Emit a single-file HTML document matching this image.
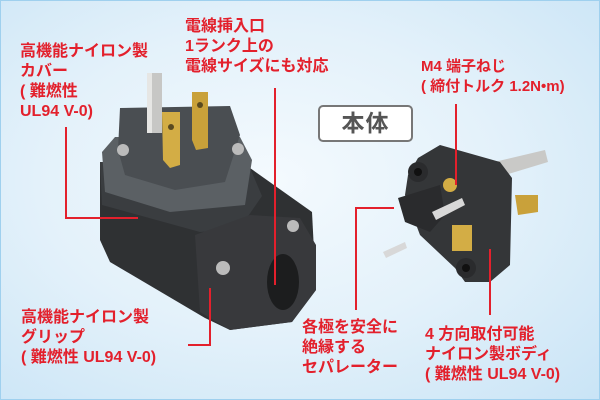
<!DOCTYPE html>
<html><head><meta charset="utf-8"><style>
html,body{margin:0;padding:0}
body{width:600px;height:400px;overflow:hidden;position:relative;font-family:"Liberation Sans","Noto Sans CJK JP",sans-serif;
background:radial-gradient(ellipse at 45% 45%,#f4fafe 0%,#e3f1fa 50%,#c9e4f6 100%);}
.frame{position:absolute;left:0;top:0;width:598px;height:398px;border:1px solid #9fd0ee}
.t{position:absolute;color:#e3202c;font-weight:bold;font-size:16px;line-height:20px;white-space:nowrap}
.s{font-size:15px;line-height:20px}
.box{position:absolute;left:318px;top:105px;width:91px;height:33px;border:2px solid #777;border-radius:5px;background:#fff;
color:#555;font-weight:bold;font-size:23px;line-height:33px;text-align:center;letter-spacing:1px}
svg{position:absolute;left:0;top:0}
</style></head><body>
<div class="frame"></div>
<svg width="600" height="400" viewBox="0 0 600 400">
<!-- left plug -->
<polygon points="100,162 250,168 312,212 316,290 292,322 230,330 205,318 110,262 100,240" fill="#2f3133"/>
<polygon points="100,162 250,168 262,196 240,228 200,232 102,205" fill="#3a3d40"/>
<path d="M195,235 L250,215 L300,218 L316,245 L316,290 L292,322 L230,330 L200,312 Z" fill="#38393c"/>
<ellipse cx="283" cy="282" rx="16" ry="28" fill="#1c1d1e"/>
<polygon points="102,152 115,137 240,137 252,160 245,205 170,212 105,192" fill="#5b6064"/>
<polygon points="120,108 230,106 240,135 225,182 175,190 125,175 118,150" fill="#4a4e52"/>
<rect x="147" y="73" width="15" height="60" fill="#c7c7c5"/>
<rect x="147" y="73" width="5" height="60" fill="#e6e6e4"/>
<polygon points="192,92 208,92 208,148 196,150 192,140" fill="#c9a13a"/>
<circle cx="200" cy="105" r="3" fill="#5a4a20"/>
<polygon points="162,112 180,112 180,165 170,168 163,160" fill="#d3ad45"/>
<circle cx="171" cy="127" r="3" fill="#5a4a20"/>
<circle cx="123" cy="150" r="6" fill="#bbb"/><circle cx="238" cy="149" r="6" fill="#bbb"/>
<circle cx="223" cy="268" r="7" fill="#bbb"/><circle cx="293" cy="226" r="6" fill="#bbb"/>
<!-- right plug -->
<polygon points="490,163 545,150 548,162 495,178" fill="#c9c9c7"/>
<polygon points="515,195 538,195 538,212 518,215" fill="#c9a13a"/>
<polygon points="418,158 440,145 500,162 512,178 510,265 490,282 465,282 455,268 420,235 405,195 408,175" fill="#343638"/>
<polygon points="398,198 440,185 445,215 430,232 405,222" fill="#2a2b2d"/>
<circle cx="418" cy="172" r="10" fill="#2a2b2d"/><circle cx="418" cy="172" r="4" fill="#111"/>
<circle cx="466" cy="268" r="10" fill="#2a2b2d"/><circle cx="466" cy="268" r="4" fill="#111"/>
<circle cx="450" cy="185" r="7" fill="#d3ad45"/>
<rect x="452" y="225" width="20" height="26" fill="#d3ad45"/>
<polygon points="432,212 462,198 465,205 436,220" fill="#d8d8d8"/>
<polygon points="383,252 405,242 407,248 386,258" fill="#d8d8d8"/>
<!-- lines -->
<g stroke="#e3202c" stroke-width="2" fill="none">
<polyline points="66,127 66,218 138,218"/>
<line x1="275" y1="88" x2="275" y2="285"/>
<polyline points="210,288 210,345 188,345"/>
<line x1="456" y1="104" x2="456" y2="185"/>
<polyline points="394,208 356,208 356,310"/>
<line x1="490" y1="249" x2="490" y2="315"/>
</g>
</svg>
<div class="t" style="left:20px;top:42px">高機能ナイロン製<br>カバー<br>( 難燃性<br>UL94 V-0)</div>
<div class="t" style="left:185px;top:17px">電線挿入口<br>1ランク上の<br>電線サイズにも対応</div>
<div class="t s" style="left:421px;top:57px">M4 端子ねじ<br>( 締付トルク 1.2N•m)</div>
<div class="box">本体</div>
<div class="t" style="left:21px;top:308px">高機能ナイロン製<br>グリップ<br>( 難燃性 UL94 V-0)</div>
<div class="t" style="left:302px;top:318px">各極を安全に<br>絶縁する<br>セパレーター</div>
<div class="t" style="left:425px;top:325px">4 方向取付可能<br>ナイロン製ボディ<br>( 難燃性 UL94 V-0)</div>
</body></html>
